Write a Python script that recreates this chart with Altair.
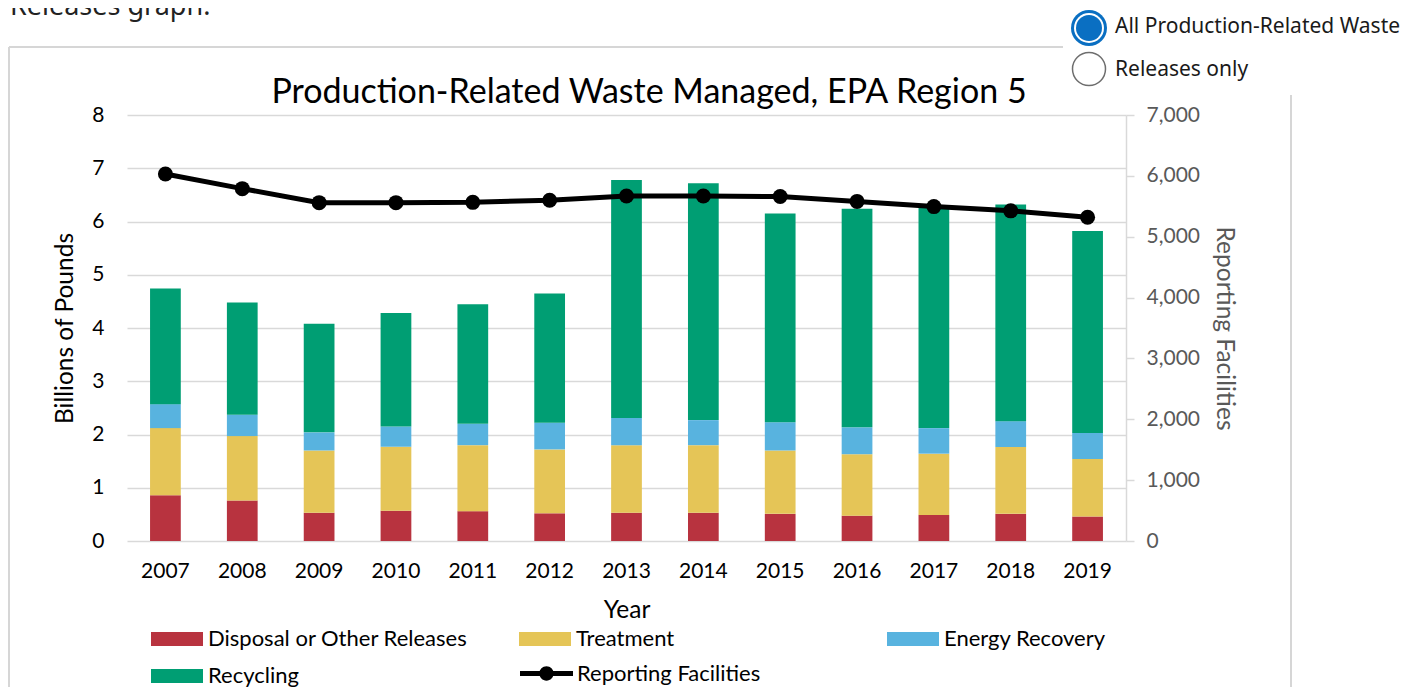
import altair as alt
import pandas as pd

# ---------------- data ----------------
years = ["2007", "2008", "2009", "2010", "2011", "2012", "2013",
         "2014", "2015", "2016", "2017", "2018", "2019"]
disposal = [0.86, 0.76, 0.53, 0.57, 0.56, 0.52, 0.53, 0.53, 0.51, 0.475, 0.49, 0.51, 0.46]
treatment = [1.26, 1.21, 1.17, 1.20, 1.24, 1.20, 1.27, 1.27, 1.19, 1.155, 1.15, 1.255, 1.08]
energy = [0.45, 0.40, 0.34, 0.38, 0.40, 0.50, 0.51, 0.47, 0.53, 0.505, 0.48, 0.485, 0.49]
recycling = [2.17, 2.11, 2.04, 2.13, 2.245, 2.43, 4.47, 4.45, 3.92, 4.105, 4.16, 4.07, 3.79]
facilities = [6030, 5790, 5560, 5560, 5565, 5600, 5670, 5670, 5660, 5580, 5495, 5425, 5320]

categories = ["Disposal or Other Releases", "Treatment", "Energy Recovery", "Recycling"]
cat_colors = ["#B8333F", "#E5C557", "#58B3DF", "#009E73"]
left_ticks = [0, 1, 2, 3, 4, 5, 6, 7, 8]
right_ticks = [0, 1000, 2000, 3000, 4000, 5000, 6000, 7000]
chart_title = "Production-Related Waste Managed, EPA Region 5"

series = [disposal, treatment, energy, recycling]
rows = []
for ci, (cat, vals) in enumerate(zip(categories, series)):
    for y, v in zip(years, vals):
        rows.append({"year": y, "category": cat, "value": v, "idx": ci})
bars_df = pd.DataFrame(rows)
line_df = pd.DataFrame({"year": years, "facilities": facilities,
                        "series": ["Reporting Facilities"] * len(years)})

FONT = "Lato"
UI_FONT = "Noto Sans"

# plot-area origin on the page
OX, OY = 127, 115
def px(x):
    return x - OX
def py(y):
    return y - OY

x_enc = alt.X("year:N", sort=years,
              scale=alt.Scale(paddingInner=0.6, paddingOuter=0.3),
              axis=alt.Axis(title="Year", labelAngle=0, ticks=False, tickSize=0,
                            domain=False, grid=False, labelPadding=19,
                            titlePadding=17, labelFontSize=21, titleFontSize=24.5))

bars = alt.Chart(bars_df).mark_bar().encode(
    x=x_enc,
    y=alt.Y("value:Q", stack="zero",
            scale=alt.Scale(domain=[0, 8], nice=False),
            axis=alt.Axis(title="Billions of Pounds", values=left_ticks, grid=True,
                          gridColor="#d9d9d9", gridWidth=1.5, domain=False,
                          ticks=False, tickSize=0, labelPadding=23, titlePadding=14,
                          labelFontSize=21, titleFontSize=24.5)),
    color=alt.Color("category:N",
                    scale=alt.Scale(domain=categories, range=cat_colors),
                    sort=categories,
                    legend=alt.Legend(title=None, orient="none", legendX=24, legendY=498,
                                      direction="horizontal",
                                      columns=3, columnPadding=51, rowPadding=-20,
                                      gridAlign="all", padding=0,
                                      symbolType="M-1,-0.27H1V0.27H-1Z", symbolSize=2704,
                                      symbolStrokeWidth=0, labelFont=FONT,
                                      labelFontSize=22, labelColor="black",
                                      labelOffset=5, labelLimit=500)),
    order=alt.Order("idx:Q", sort="ascending"),
)

line = alt.Chart(line_df).mark_line(strokeWidth=5).encode(
    x=alt.X("year:N", sort=years),
    y=alt.Y("facilities:Q",
            scale=alt.Scale(domain=[0, 7000], nice=False),
            axis=alt.Axis(title="Reporting Facilities", orient="right",
                          values=right_ticks, format=",d", grid=False,
                          domainColor="#d9d9d9", domainWidth=1.5,
                          tickColor="#d9d9d9", tickWidth=1.5, tickSize=8,
                          labelPadding=12, labelColor="#595959",
                          titleColor="#595959", titleAngle=90, titlePadding=12,
                          labelFontSize=21, titleFontSize=24.5)),
    stroke=alt.Stroke("series:N", scale=alt.Scale(range=["black"]),
                      legend=alt.Legend(title=None, orient="none", legendX=393,
                                        legendY=532, padding=0,
                                        symbolType="M-1,-0.095H1V0.095H-1Z M0.27,0A0.27,0.27,0,1,1,-0.27,0A0.27,0.27,0,1,1,0.27,0Z",
                                        symbolSize=2809, symbolFillColor="black",
                                        symbolStrokeWidth=0, labelFont=FONT,
                                        labelFontSize=22, labelColor="black",
                                        labelOffset=4, labelLimit=500)),
)
points = alt.Chart(line_df).mark_point(filled=True, size=225, color="black", opacity=1).encode(
    x=alt.X("year:N", sort=years),
    y=alt.Y("facilities:Q"),
)
line_layer = alt.layer(line, points)

# ---------------- title and page decorations ----------------
one = pd.DataFrame({"k": [0]})
title_mark = alt.Chart(one).mark_text(align="center", baseline="alphabetic", font=FONT,
                                      fontSize=34, color="black").encode(
    x=alt.value(px(649)), y=alt.value(py(103)), text=alt.value(chart_title))

border_col = "#d6d6d6"
border_top = alt.Chart(one).mark_rule(color=border_col, strokeWidth=2).encode(
    x=alt.value(px(9)), x2=alt.value(px(1063)), y=alt.value(py(47)))
border_left = alt.Chart(one).mark_rule(color=border_col, strokeWidth=2).encode(
    x=alt.value(px(9)), y=alt.value(py(47)), y2=alt.value(py(700)))
border_right = alt.Chart(one).mark_rule(color=border_col, strokeWidth=2).encode(
    x=alt.value(px(1291)), y=alt.value(py(95)), y2=alt.value(py(700)))

page_text = alt.Chart(one).mark_text(align="left", baseline="alphabetic", font=UI_FONT,
                                     fontSize=27, color="#222222").encode(
    x=alt.value(px(10)), y=alt.value(py(15)), text=alt.value("Releases graph."))

r1_outer = alt.Chart(one).mark_point(shape="circle", filled=True, size=1296,
                                     color="#0A6FC2", opacity=1).encode(
    x=alt.value(px(1089)), y=alt.value(py(28)))
r1_gap = alt.Chart(one).mark_point(shape="circle", filled=True, size=900,
                                   color="white", opacity=1).encode(
    x=alt.value(px(1089)), y=alt.value(py(28)))
r1_inner = alt.Chart(one).mark_point(shape="circle", filled=True, size=676,
                                     color="#0A6FC2", opacity=1).encode(
    x=alt.value(px(1089)), y=alt.value(py(28)))
r2 = alt.Chart(one).mark_point(shape="circle", filled=False, size=1089,
                               stroke="#6e6e6e", strokeWidth=1.5, fill="white",
                               fillOpacity=1, opacity=1).encode(
    x=alt.value(px(1089)), y=alt.value(py(69)))
r1_text = alt.Chart(one).mark_text(align="left", baseline="middle", font=UI_FONT,
                                   fontSize=21, color="#1a1a1a").encode(
    x=alt.value(px(1115)), y=alt.value(py(27)), text=alt.value("All Production-Related Waste"))
r2_text = alt.Chart(one).mark_text(align="left", baseline="middle", font=UI_FONT,
                                   fontSize=21, color="#1a1a1a").encode(
    x=alt.value(px(1115)), y=alt.value(py(70)), text=alt.value("Releases only"))

chart = alt.layer(
    border_top, border_left, border_right, page_text, title_mark,
    bars, line_layer,
    r1_outer, r1_gap, r1_inner, r2, r1_text, r2_text,
).resolve_scale(y="independent", color="independent", stroke="independent").properties(
    width=999, height=426,
    background="white",
    autosize=alt.AutoSizeParams(type="none"),
    padding={"left": OX - 8, "top": OY - 8, "right": 1400 - OX - 999, "bottom": 150},
).configure_view(stroke=None).configure_axis(
    labelFont=FONT, titleFont=FONT, labelColor="black", titleColor="black",
    titleFontWeight="normal"
)

chart.save("out.html", embed_options={"renderer": "svg", "actions": False})
